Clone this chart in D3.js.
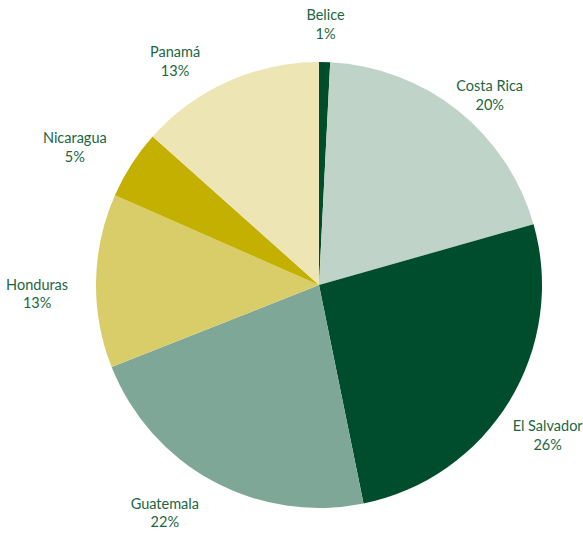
<!DOCTYPE html>
<html>
<head>
<meta charset="utf-8">
<script src="https://cdn.jsdelivr.net/npm/d3@7"></script>
<style>
  body { margin: 0; background: #fff; }
  svg { display: block; }
</style>
</head>
<body>
<script>
const countries = ['Belice', 'Costa Rica', 'El Salvador', 'Guatemala', 'Honduras', 'Nicaragua', 'Panamá'];
const shares = [0.8, 19.8, 26.2, 22.2, 12.6, 5.0, 13.4];
const colors = ['#004d2e', '#bfd3c9', '#004d2e', '#7fa797', '#d9cd69', '#c3b000', '#ede5b4'];

// label placement: distance from centre and angle nudge (degrees) off the slice mid-angle
const labelDist = [262, 256, 273, 274, 282, 281, 267];
const labelNudge = [0, 3.3, 1.8, 5.8, -2.6, -3.1, -8.5];

const box = { width: 583, height: 534, cx: 319, cy: 285, r: 223 };

const data = countries.map((c, i) => ({ name: c, value: shares[i], color: colors[i] }));

const svg = d3.select('body')
  .append('svg')
  .attr('width', box.width)
  .attr('height', box.height);

const pie = d3.pie().sort(null).value(d => d.value);
const arc = d3.arc().innerRadius(0).outerRadius(box.r);

const g = svg.append('g')
  .attr('transform', `translate(${box.cx}, ${box.cy})`);

const arcs = pie(data);

g.selectAll('path')
  .data(arcs)
  .join('path')
  .attr('d', arc)
  .attr('fill', d => d.data.color);

function labelPos(d, i) {
  const a = (d.startAngle + d.endAngle) / 2 + labelNudge[i] * Math.PI / 180;
  const r = labelDist[i];
  return [r * Math.sin(a), -r * Math.cos(a)];
}

const labels = g.selectAll('text')
  .data(arcs)
  .join('text')
  .attr('transform', (d, i) => `translate(${labelPos(d, i)})`)
  .attr('text-anchor', 'middle')
  .style('font-family', 'Lato, "Open Sans", sans-serif')
  .style('font-size', '14.5px')
  .style('fill', '#1b6641');

labels.append('tspan')
  .attr('x', 0)
  .attr('dy', '-0.2em')
  .text(d => d.data.name);

labels.append('tspan')
  .attr('x', 0)
  .attr('dy', '1.3em')
  .text(d => Math.round(d.data.value) + '%');
</script>
</body>
</html>
